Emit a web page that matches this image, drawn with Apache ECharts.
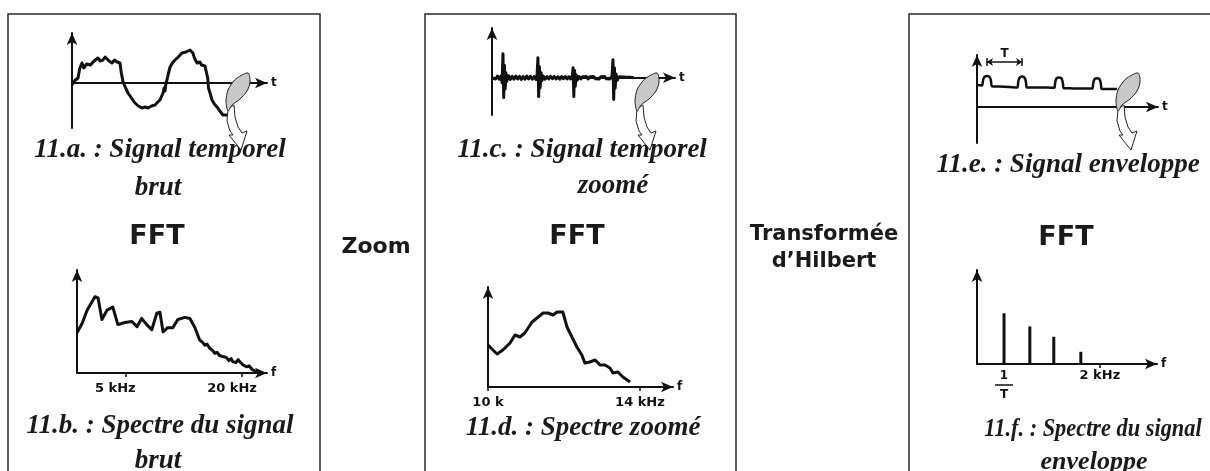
<!DOCTYPE html>
<html>
<head>
<meta charset="utf-8">
<script src="https://cdn.jsdelivr.net/npm/echarts@6/dist/echarts.min.js"></script>
<style>
  html, body { margin: 0; padding: 0; background: #fff; }
  #c { width: 1210px; height: 471px; }
</style>
</head>
<body>
<div id="c"></div>
<script>
// 11.a — raw time signal: [t, amplitude]
const rawSignal = [
  [0,-0.04],[1.5,0.05],[3.1,0.1],[4,0.3],[5.1,0.4],[6,0.3],[6.7,0.32],[7.5,0.38],[8.2,0.4],
  [9.5,0.36],[10.8,0.42],[12,0.46],[13.3,0.5],[14.5,0.44],[15.9,0.46],[17,0.52],[17.9,0.5],
  [19,0.44],[20.5,0.4],[21.8,0.46],[23.1,0.42],[24.6,0.4],[25.3,0.2],[26.2,0.02],[27.5,-0.1],
  [28.7,-0.2],[30.5,-0.3],[32.3,-0.4],[34,-0.46],[35.9,-0.5],[37.5,-0.48],[39,-0.5],[40.8,-0.46],
  [42.6,-0.44],[44,-0.38],[45.1,-0.34],[46,-0.26],[46.7,-0.2],[47.2,-0.1],[47.7,-0.16],[48.2,0],
  [48.7,0.06],[49.5,0.2],[50.3,0.32],[51.5,0.4],[52.8,0.46],[54.5,0.52],[56.4,0.6],[58.5,0.62],
  [60.5,0.66],[61.2,0.63],[62,0.6],[62.8,0.5],[63.5,0.46],[64.1,0.4],[65,0.44],[65.6,0.42],
  [66.4,0.36],[67.2,0.32],[68.2,0.34],[69.2,0.3],[69.6,0.1],[70,-0.1],[70.8,-0.2],[71.8,-0.34],
  [73,-0.42],[74.4,-0.48],[75.8,-0.56],[77.4,-0.64],[79.5,-0.64]
];

// 11.b — spectrum of the raw signal: [kHz, level]
const rawSpectrum = [
  [-1.2,39],[-0.55,48],[0.1,61],[1.1,74],[1.5,73],[2.0,52],[2.65,61],[3.4,64],[4.05,47],
  [4.95,49],[5.85,50],[6.5,45],[7.1,53],[7.75,47],[8.4,42],[9.05,58],[9.45,59],[9.85,40],
  [10.45,44],[11.1,44],[11.75,52],[12.65,54],[13.3,53],[13.95,44],[14.55,32],[14.9,30],
  [15.2,27],[15.5,28],[15.85,24],[16.2,22],[16.5,19],[16.8,20],[17.1,17],[17.5,16],[18.0,15],
  [18.3,12],[18.6,14],[18.8,11],[19.2,10],[19.5,13],[19.7,11],[20.1,8],[20.55,6],[20.9,7],
  [21.35,3],[22.0,1]
];
const rawSpecTicks = [5, 20];
const rawSpecLabels = ['5 kHz', '20 kHz'];

// 11.c — zoomed time signal: [t, amplitude]
const zoomSignal = [
  [0,0],[1,0.06],[2,-0.05],[3,0.07],[4,-0.06],[5,0.08],[5.5,-0.2],[6,0.96],[6.4,-0.8],[6.8,0.5],
  [7.2,-0.45],[7.6,0.2],[8,-0.15],[9,0.08],[10,-0.07],[11,0.06],[12,-0.06],[13,0.07],[14,-0.05],
  [15,0.06],[16,-0.07],[17,0.05],[18,-0.06],[19,0.07],[20,-0.05],[21,0.06],[22,-0.06],[23,0.05],
  [24,-0.07],[24.6,0.1],[25.1,0.8],[25.5,-0.76],[25.9,0.45],[26.3,-0.4],[26.8,0.2],[27.3,-0.12],
  [28,0.07],[29,-0.06],[30,0.05],[31,-0.05],[32,0.06],[33,-0.04],[34,0.05],[35,-0.05],[36,0.04],
  [37,-0.06],[38,0.05],[39,-0.04],[40,0.05],[41,-0.05],[42,0.04],[43,-0.05],[43.9,0.08],[44.3,0.4],
  [44.7,-0.76],[45.1,0.3],[45.5,-0.35],[46,0.12],[46.6,-0.1],[47.5,0.05],[48.5,-0.05],[49.5,0.04],
  [50.5,-0.04],[51.5,0.05],[52.5,-0.05],[53.5,0.04],[54.5,-0.04],[55.5,0.05],[56.5,-0.04],
  [57.5,0.04],[58.5,-0.05],[59.5,0.04],[60.5,-0.04],[61.5,0.05],[62.5,-0.04],[63.5,0.04],
  [64.5,-0.05],[65.6,0.08],[66.1,0.72],[66.5,-0.88],[66.9,0.4],[67.3,-0.42],[67.8,0.15],
  [68.4,-0.1],[69.5,0.04],[70.5,-0.03],[71.5,0.03],[72.5,-0.03],[73.5,0.02],[74.5,-0.02],
  [75.5,0.02],[76.5,-0.01],[77.5,0]
];

// 11.d — zoomed spectrum: [kHz, level]
const zoomSpectrum = [
  [10.0,42],[10.13,37],[10.24,33],[10.39,37],[10.58,44],[10.71,52],[10.84,50],[10.97,54],
  [11.16,65],[11.29,69],[11.45,74],[11.58,74],[11.71,72],[11.82,75],[11.97,75],[12.08,60],
  [12.21,50],[12.34,40],[12.47,32],[12.55,24],[12.68,25],[12.82,27],[12.95,22],[13.08,22],
  [13.21,19],[13.29,14],[13.42,15],[13.55,10],[13.74,5]
];
const zoomSpecTicks = [10, 14];
const zoomSpecLabels = ['10 k', '14 kHz'];

// 11.e — envelope signal: [t, amplitude]
const envelope = [
  [0,1.1],[2.8,1.08],[3.2,1.25],[3.6,1.42],[4.4,1.52],[5.5,1.55],[6.6,1.52],[7.4,1.42],[7.8,1.25],
  [8.2,1.04],[12,1.02],[18,1.0],[22.3,0.98],[22.7,1.2],[23.1,1.38],[23.8,1.49],[24.9,1.52],
  [26,1.49],[26.7,1.38],[27.1,1.2],[27.5,0.98],[33,0.97],[39,0.97],[42.7,0.96],[43.1,1.16],
  [43.5,1.34],[44.2,1.45],[45.3,1.48],[46.4,1.45],[47.1,1.34],[47.5,1.16],[47.9,0.94],[53,0.93],
  [58,0.92],[63.7,0.92],[64.1,1.12],[64.5,1.3],[65.2,1.41],[66.3,1.44],[67.4,1.41],[68.1,1.3],
  [68.5,1.12],[68.9,0.9],[73,0.9],[77.3,0.9]
];
const envPeriod = [5.5, 24.9];

// 11.f — envelope spectrum lines
const envLineFreq = [0.44, 0.86, 1.25, 1.69];
const envLineLevel = [54, 40, 29, 13];
const envSpecTicks = [0.44, 2];
const envSpecLabels = ['1/T', '2 kHz'];

const INK = '#111';
const SANS = '"DejaVu Sans", sans-serif';
const SERIF = '"Liberation Serif", "Times New Roman", serif';

const chart = echarts.init(document.getElementById('c'), null, { renderer: 'canvas' });

// plot areas, one per small diagram
const grids = [
  { left: 72,  top: 33,  width: 195, height: 95 },   // 11.a
  { left: 77,  top: 270, width: 190, height: 103 },  // 11.b
  { left: 492, top: 28,  width: 183, height: 87 },   // 11.c
  { left: 488, top: 287, width: 185, height: 100 },  // 11.d
  { left: 977, top: 55,  width: 181, height: 88 },   // 11.e
  { left: 977, top: 270, width: 180, height: 94 }    // 11.f
];

function axisLine() {
  return {
    show: true, onZero: true,
    symbol: ['none', 'arrow'], symbolSize: [8, 12],
    lineStyle: { color: INK, width: 2 }
  };
}
function xAxis(i, min, max, name, ticks, labels, extraLabel) {
  const ax = {
    type: 'value', gridIndex: i, min, max,
    name, nameLocation: 'end', nameGap: 4,
    nameTextStyle: { color: INK, fontFamily: SANS, fontWeight: 'bold', fontSize: 12 },
    axisLine: axisLine(), splitLine: { show: false },
    axisTick: { show: false }, axisLabel: { show: false }
  };
  if (ticks) {
    ax.axisTick = { show: true, customValues: ticks, length: 4, lineStyle: { color: INK, width: 1.5 } };
    ax.axisLabel = Object.assign({
      show: true, customValues: ticks, margin: 9,
      color: INK, fontFamily: SANS, fontWeight: 'bold', fontSize: 13,
      formatter: (v) => labels[ticks.indexOf(v)]
    }, extraLabel || {});
  }
  return ax;
}
function yAxis(i, min, max) {
  const line = axisLine(); line.onZero = false;
  return {
    type: 'value', gridIndex: i, min, max,
    axisLine: line, splitLine: { show: false },
    axisTick: { show: false }, axisLabel: { show: false }
  };
}

const xAxes = [
  xAxis(0, 0, 100, 't'),
  xAxis(1, -1.2, 23.2, 'f', rawSpecTicks, rawSpecLabels, { padding: [0, 20, 0, 0] }),
  xAxis(2, 0, 100, 't'),
  xAxis(3, 10, 14.87, 'f', zoomSpecTicks, zoomSpecLabels),
  xAxis(4, 0, 100, 't'),
  xAxis(5, 0, 2.93, 'f', envSpecTicks, envSpecLabels, {
    formatter: (v) => v === envSpecTicks[0] ? '{n|1}\n{b| }\n{n|T}' : envSpecLabels[envSpecTicks.indexOf(v)],
    rich: {
      n: { fontFamily: SANS, fontWeight: 'bold', fontSize: 12, lineHeight: 13, color: INK },
      b: { width: 18, height: 1.5, lineHeight: 6, backgroundColor: INK }
    },
    margin: 5
  })
];
xAxes[5].axisTick.customValues = [2];

const yAxes = [
  yAxis(0, -0.9, 1),
  yAxis(1, 0, 100),
  yAxis(2, -1.5, 2),
  yAxis(3, 0, 100),
  yAxis(4, -1.8, 2.6),
  yAxis(5, 0, 100)
];

function lineSeries(i, data, width, extra) {
  return Object.assign({
    type: 'line', xAxisIndex: i, yAxisIndex: i, data,
    showSymbol: false, symbol: 'none', silent: true,
    lineStyle: { color: INK, width: width, join: 'round' }
  }, extra || {});
}

const series = [
  lineSeries(0, rawSignal, 3),
  lineSeries(1, rawSpectrum, 3),
  lineSeries(2, zoomSignal, 3),
  lineSeries(3, zoomSpectrum, 3),
  lineSeries(4, envelope, 2.5, {
    smooth: 0.25,
    markLine: {
      silent: true, animation: false,
      lineStyle: { color: INK, width: 1.5, type: 'solid' },
      label: {
        show: true, position: 'middle', formatter: 'T', distance: 2,
        color: INK, fontFamily: SANS, fontWeight: 'bold', fontSize: 12
      },
      data: [
        [
          { coord: [envPeriod[0], 2.25], symbol: 'arrow', symbolSize: 6 },
          { coord: [envPeriod[1], 2.25], symbol: 'arrow', symbolSize: 6 }
        ],
        [
          { coord: [envPeriod[0], 2.05], symbol: 'none', label: { show: false } },
          { coord: [envPeriod[0], 2.45], symbol: 'none', label: { show: false } }
        ],
        [
          { coord: [envPeriod[1], 2.05], symbol: 'none', label: { show: false } },
          { coord: [envPeriod[1], 2.45], symbol: 'none', label: { show: false } }
        ]
      ]
    }
  }),
  {
    type: 'bar', xAxisIndex: 5, yAxisIndex: 5, silent: true,
    data: envLineFreq.map((f, k) => [f, envLineLevel[k]]),
    barWidth: 3, itemStyle: { color: INK }
  }
];

// panel frames
function frame(x0, x1) {
  return { type: 'polyline', silent: true, z: 1,
    shape: { points: [[x0, 480], [x0, 14], [x1, 14], [x1, 480]] },
    style: { stroke: '#2a2a2a', lineWidth: 1.5, fill: null } };
}
function caption(text, x, y, size, squeeze) {
  return { type: 'text', x, y, silent: true, z: 10, scaleX: squeeze || 1,
    style: { text, font: 'italic bold ' + (size || 27) + 'px ' + SERIF, fill: '#1a1a1a',
      textAlign: 'center', textVerticalAlign: 'middle', align: 'center', verticalAlign: 'middle' } };
}
function heading(text, x, y, size) {
  return { type: 'text', x, y, silent: true, z: 10,
    style: { text, font: 'bold ' + size + 'px ' + SANS, fill: '#1a1a1a',
      textAlign: 'center', textVerticalAlign: 'middle', align: 'center', verticalAlign: 'middle' } };
}
// curved "zoom in" arrow: grey horn with a hollow tail, anchored at its top-right corner
function zoomArrow(ax, ay) {
  return {
    type: 'group', x: ax, y: ay, silent: true, z: 20,
    children: [
      { type: 'polygon', z: 20,
        shape: { points: [[-20,36],[-21,48],[-18,58],[-15,62],[-19,62],[-7,77],[-1,58],[-6,60],
                          [-10,54],[-13,44],[-14,32]] },
        style: { fill: '#fff', stroke: '#222', lineWidth: 1 } },
      { type: 'polygon', z: 21,
        shape: { points: [[0,0],[2,9],[-1,18],[-8,26],[-16,32],[-20,38],[-22,28],[-20,17],[-15,9],[-11,5]],
                 smooth: 0.3 },
        style: { fill: '#c8c8c8', stroke: '#222', lineWidth: 1 } }
    ]
  };
}

const graphic = [
  frame(8, 320), frame(425, 736), frame(909, 1230),
  caption('11.a. : Signal temporel', 160, 150),
  caption('brut', 158, 188),
  heading('FFT', 157, 237, 27),
  caption('11.b. : Spectre du signal', 160, 426),
  caption('brut', 158, 461),
  heading('Zoom', 376, 247, 22),
  caption('11.c. : Signal temporel', 582, 150),
  caption('zoomé', 613, 186),
  heading('FFT', 577, 237, 27),
  caption('11.d. : Spectre zoomé', 583, 428),
  heading('Transformée', 824, 235, 21),
  heading('d\u2019Hilbert', 824, 262, 21),
  caption('11.e. : Signal enveloppe', 1068, 165),
  heading('FFT', 1066, 238, 27),
  caption('11.f. : Spectre du signal', 1093, 429, 26, 0.86),
  caption('enveloppe', 1094, 462, 26),
  zoomArrow(248, 73), zoomArrow(657, 73), zoomArrow(1138, 73)
];

chart.setOption({
  animation: false,
  backgroundColor: '#fff',
  grid: grids.map(g => Object.assign({ containLabel: false }, g)),
  xAxis: xAxes,
  yAxis: yAxes,
  series,
  graphic
});
</script>
</body>
</html>
